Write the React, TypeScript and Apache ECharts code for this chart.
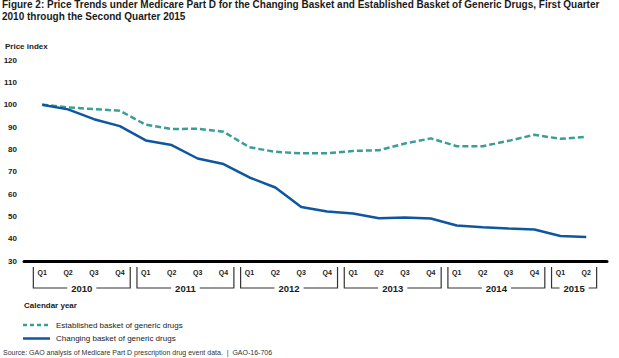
import React, { useEffect, useRef } from "react";
import * as echarts from "echarts";

const quarterLabels = [
  "Q1", "Q2", "Q3", "Q4",
  "Q1", "Q2", "Q3", "Q4",
  "Q1", "Q2", "Q3", "Q4",
  "Q1", "Q2", "Q3", "Q4",
  "Q1", "Q2", "Q3", "Q4",
  "Q1", "Q2",
];
const years = ["2010", "2011", "2012", "2013", "2014", "2015"];
const quartersPerYear = [4, 4, 4, 4, 4, 2];
const established = [
  100, 98.8, 98.0, 97.3, 91.0, 89.1, 89.2, 87.9, 80.9, 78.9, 78.2,
  78.2, 79.3, 79.6, 82.6, 84.9, 81.4, 81.4, 83.8, 86.5, 84.7, 85.6,
];
const changing = [
  100, 97.9, 93.5, 90.4, 84.0, 81.9, 75.9, 73.4, 67.4, 62.9, 54.2,
  52.2, 51.3, 49.1, 49.5, 49.0, 45.9, 45.1, 44.5, 44.1, 41.2, 40.8,
];
const yTicks = { min: 30, max: 120, interval: 10 };
const seriesNames = [
  "Established basket of generic drugs",
  "Changing basket of generic drugs",
];
const seriesColors = ["#3a9e98", "#0e57a0"];
const titleLines = [
  "Figure 2: Price Trends under Medicare Part D for the Changing Basket and Established Basket of Generic Drugs, First Quarter",
  "2010 through the Second Quarter 2015",
];

const FONT = "'Liberation Sans', Arial, sans-serif";
const TXT = "#1a1a1a";

export default function App() {
  const ref = useRef<HTMLDivElement>(null);
  useEffect(() => {
    document.body.style.margin = "0";
    if (!ref.current) return;
    const chart = echarts.init(ref.current, undefined, { renderer: "svg" });
    chart.setOption({
      animation: false,
      textStyle: { fontFamily: FONT },
      grid: { left: 24, right: 12, top: 60, bottom: 97 },
      xAxis: {
        type: "value",
        min: -0.7,
        max: 21.8,
        axisLine: { show: true, lineStyle: { color: "#000", width: 3 } },
        axisTick: { show: false },
        splitLine: { show: false },
        axisLabel: {
          customValues: quarterLabels.map((_, i) => i),
          formatter: (v: number) => quarterLabels[Math.round(v)] ?? "",
          fontSize: 7,
          fontWeight: "bold",
          color: TXT,
          margin: 8,
          fontFamily: FONT,
        },
      },
      yAxis: {
        type: "value",
        min: yTicks.min,
        max: yTicks.max,
        interval: yTicks.interval,
        axisLine: { show: false },
        axisTick: { show: false },
        splitLine: { show: false },
        axisLabel: { fontSize: 8, fontWeight: "bold", color: TXT, margin: 7, fontFamily: FONT },
      },
      series: [
        {
          name: seriesNames[0],
          type: "line",
          symbol: "none",
          data: established.map((v, i) => [i, v]),
          lineStyle: { color: seriesColors[0], width: 2.5, type: [6, 3] },
          z: 2,
        },
        {
          name: seriesNames[1],
          type: "line",
          symbol: "none",
          data: changing.map((v, i) => [i, v]),
          lineStyle: { color: seriesColors[1], width: 2.5 },
          z: 3,
        },
      ],
    });

    const baseY = chart.convertToPixel({ yAxisIndex: 0 }, yTicks.min) as number;
    const top = baseY + 6;
    const bottom = baseY + 27;
    const graphics: any[] = [];
    titleLines.forEach((t, i) => {
      graphics.push({
        type: "text",
        x: 2,
        y: 4.8 + i * 11.8,
        style: { text: t, fontSize: 10, fontWeight: "bold", fontFamily: FONT, fill: TXT, verticalAlign: "middle" },
      });
    });
    let start = 0;
    years.forEach((yr, k) => {
      const n = quartersPerYear[k];
      const x1 = chart.convertToPixel({ xAxisIndex: 0 }, start - 0.34) as number;
      const x2 = chart.convertToPixel({ xAxisIndex: 0 }, start + n - 1 + 0.4) as number;
      graphics.push({
        type: "polyline",
        shape: { points: [[x1, top], [x1, bottom], [x2, bottom], [x2, top]] },
        style: { stroke: "#333", lineWidth: 1.2, fill: null },
        silent: true,
      });
      graphics.push({
        type: "text",
        x: (x1 + x2) / 2,
        y: bottom,
        style: {
          text: yr,
          fontSize: 9.5,
          fontWeight: "bold",
          fontFamily: FONT,
          fill: TXT,
          align: "center",
          verticalAlign: "middle",
          backgroundColor: "#fff",
          padding: [0, 4],
        },
        z: 10,
      });
      start += n;
    });
    graphics.push({
      type: "text",
      x: 5,
      y: 46.5,
      style: { text: "Price index", fontSize: 8, fontWeight: "bold", fontFamily: FONT, fill: TXT, verticalAlign: "middle" },
    });
    graphics.push({
      type: "text",
      x: 24,
      y: 305,
      style: { text: "Calendar year", fontSize: 8, fontWeight: "bold", fontFamily: FONT, fill: TXT, verticalAlign: "middle" },
    });
    seriesNames.forEach((name, i) => {
      const ly = 325 + i * 13.5;
      graphics.push({
        type: "line",
        shape: { x1: 23, y1: ly, x2: 50, y2: ly },
        style: {
          stroke: seriesColors[i],
          lineWidth: 2.5,
          lineDash: i === 0 ? [4, 3] : null,
        },
      });
      graphics.push({
        type: "text",
        x: 56,
        y: ly,
        style: { text: name, fontSize: 8, fontFamily: FONT, fill: TXT, verticalAlign: "middle" },
      });
    });
    graphics.push({
      type: "text",
      x: 3,
      y: 352.5,
      style: {
        text: "Source: GAO analysis of Medicare Part D prescription drug event data.  |  GAO-16-706",
        fontSize: 7,
        fontFamily: FONT,
        fill: "#333",
        verticalAlign: "middle",
      },
    });
    chart.setOption({ graphic: graphics });
    return () => chart.dispose();
  }, []);
  return <div ref={ref} style={{ width: 619, height: 358 }} />;
}
